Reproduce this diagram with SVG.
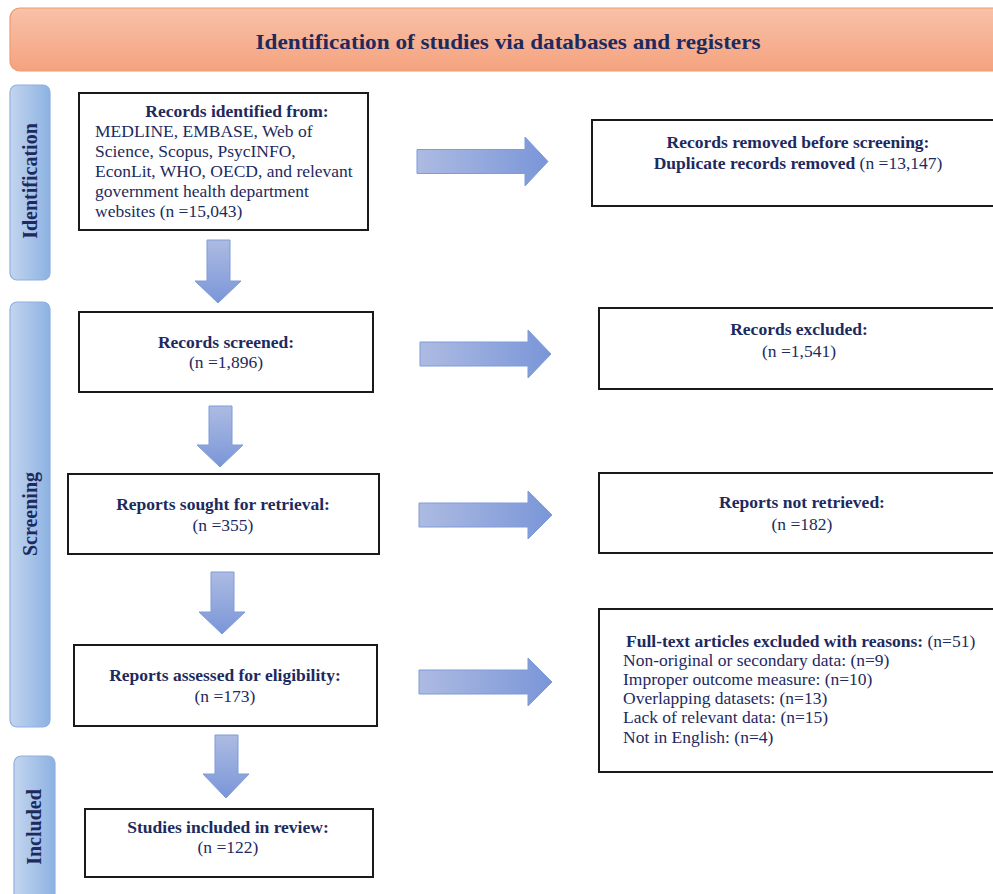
<svg xmlns="http://www.w3.org/2000/svg" width="993" height="894" viewBox="0 0 993 894">
<defs>
<linearGradient id="hdr" x1="0" y1="0" x2="0" y2="1">
<stop offset="0" stop-color="#f8c2a9"/>
<stop offset="1" stop-color="#f5a27e"/>
</linearGradient>
<linearGradient id="bar" x1="0" y1="0" x2="1" y2="0">
<stop offset="0" stop-color="#c3d5ef"/>
<stop offset="1" stop-color="#8cb2e2"/>
</linearGradient>
<linearGradient id="arrR" x1="0" y1="0" x2="1" y2="0">
<stop offset="0" stop-color="#adbbe2"/>
<stop offset="1" stop-color="#7a96d8"/>
</linearGradient>
<linearGradient id="arrD" x1="0" y1="0" x2="0" y2="1">
<stop offset="0" stop-color="#adbbe2"/>
<stop offset="1" stop-color="#7a96d8"/>
</linearGradient>
</defs>
<style>
.box{fill:#fff;stroke:#1a1a1a;stroke-width:2}
.bar{fill:url(#bar);stroke:#8fb0de;stroke-width:1.2}
.ar{fill:url(#arrR);stroke:#7f9bd9;stroke-width:1}
.ad{fill:url(#arrD);stroke:#7f9bd9;stroke-width:1}
text{font-family:"Liberation Serif","Times New Roman",serif;fill:#1d2a5e;font-size:17.5px}
.b{font-weight:bold}
.c{text-anchor:middle}
.side{font-weight:bold;font-size:20px;text-anchor:middle}
</style>
<rect width="993" height="894" fill="#fff"/>
<g id="header">
<rect x="10" y="8" width="1000" height="63" rx="10" fill="url(#hdr)" stroke="#f09a70" stroke-width="1.2"/>
<text x="508" y="49" class="b c" style="font-size:22px" textLength="505" lengthAdjust="spacingAndGlyphs">Identification of studies via databases and registers</text>
</g>
<g id="bar-identification">
<rect class="bar" x="10" y="85" width="40" height="195" rx="7"/>
<text class="side" transform="translate(37,181) rotate(-90)">Identification</text>
</g>
<g id="bar-screening">
<rect class="bar" x="10" y="302" width="40" height="425" rx="7"/>
<text class="side" transform="translate(37,514) rotate(-90)">Screening</text>
</g>
<g id="bar-included">
<rect class="bar" x="14" y="756" width="41" height="150" rx="7"/>
<text class="side" transform="translate(41,827) rotate(-90)">Included</text>
</g>
<g id="connectors">
<path class="ar" d="M417,149.5 H525 V137 L548,161.5 L525,186 V173.5 H417 Z"/>
<path class="ar" d="M420,342 H528 V330 L551,354 L528,378 V366 H420 Z"/>
<path class="ar" d="M419,503 H528 V491 L552,515 L528,539 V527 H419 Z"/>
<path class="ar" d="M419,670 H528 V658 L552,682 L528,706 V694 H419 Z"/>
<path class="ad" d="M207,240 H230 V281 H241 L218,303 L195,281 H207 Z"/>
<path class="ad" d="M209,406 H232 V445 H243 L220,467 L197,445 H209 Z"/>
<path class="ad" d="M211,572 H234 V612 H245 L222,634 L199,612 H211 Z"/>
<path class="ad" d="M215,735 H238 V774 H249 L226,798 L203,774 H215 Z"/>
</g>
<g id="records-identified">
<rect class="box" x="79" y="93" width="289" height="137"/>
<text x="237" y="117" class="b c">Records identified from:</text>
<text x="95" y="137">MEDLINE, EMBASE, Web of</text>
<text x="95" y="157">Science, Scopus, PsycINFO,</text>
<text x="95" y="177">EconLit, WHO, OECD, and relevant</text>
<text x="95" y="197">government health department</text>
<text x="95" y="217">websites (n =15,043)</text>
</g>
<g id="records-removed">
<rect class="box" x="592" y="120" width="420" height="86"/>
<text x="798" y="148" class="b c">Records removed before screening:</text>
<text x="798" y="169" class="c"><tspan class="b">Duplicate records removed</tspan> (n =13,147)</text>
</g>
<g id="records-screened">
<rect class="box" x="79" y="312" width="294" height="80"/>
<text x="226" y="348" class="b c">Records screened:</text>
<text x="226" y="368" class="c">(n =1,896)</text>
</g>
<g id="records-excluded">
<rect class="box" x="599" y="308" width="420" height="81"/>
<text x="799" y="335" class="b c">Records excluded:</text>
<text x="799" y="357" class="c">(n =1,541)</text>
</g>
<g id="reports-sought">
<rect class="box" x="68" y="474" width="311" height="80"/>
<text x="223" y="510" class="b c">Reports sought for retrieval:</text>
<text x="223" y="531" class="c">(n =355)</text>
</g>
<g id="reports-not-retrieved">
<rect class="box" x="599" y="473" width="420" height="80"/>
<text x="802" y="508" class="b c">Reports not retrieved:</text>
<text x="802" y="530" class="c">(n =182)</text>
</g>
<g id="reports-assessed">
<rect class="box" x="74" y="645" width="303" height="81"/>
<text x="225" y="681" class="b c">Reports assessed for eligibility:</text>
<text x="225" y="702" class="c">(n =173)</text>
</g>
<g id="full-text-excluded">
<rect class="box" x="599" y="609" width="420" height="163"/>
<text x="626" y="647"><tspan class="b">Full-text articles excluded with reasons:</tspan> (n=51)</text>
<text x="623" y="666">Non-original or secondary data: (n=9)</text>
<text x="623" y="685">Improper outcome measure: (n=10)</text>
<text x="623" y="704">Overlapping datasets: (n=13)</text>
<text x="623" y="723">Lack of relevant data: (n=15)</text>
<text x="623" y="743">Not in English: (n=4)</text>
</g>
<g id="studies-included">
<rect class="box" x="85" y="809" width="288" height="68"/>
<text x="228" y="833" class="b c">Studies included in review:</text>
<text x="228" y="853" class="c">(n =122)</text>
</g>
</svg>
